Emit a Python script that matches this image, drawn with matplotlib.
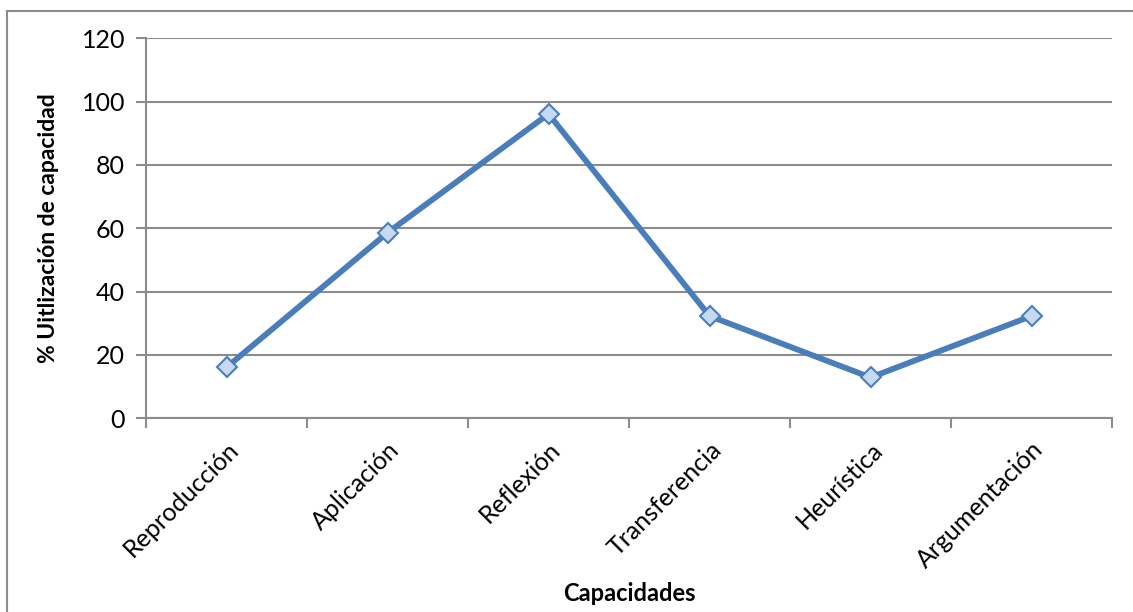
import matplotlib.pyplot as plt
from matplotlib.lines import Line2D

# capacity usage by category
capacidades = ["Reproducción", "Aplicación", "Reflexión", "Transferencia", "Heurística", "Argumentación"]
utilizacion = [16.1, 58.6, 96.1, 32.3, 12.9, 32.3]
y_ticks = [0, 20, 40, 60, 80, 100, 120]

plt.rcParams['font.family'] = ['Lato', 'DejaVu Sans']
grid_color = "#8c8c8c"

fig = plt.figure(figsize=(11.33, 6.12), dpi=100)
ax = fig.add_axes([0.1289, 0.3165, 0.8526, 0.6209])

x = range(len(capacidades))
ax.plot(x, utilizacion, color="#4a7ebb", linewidth=4.2, marker="D", markersize=10,
        markerfacecolor="#c6d9f1", markeredgecolor="#4a7ebb", markeredgewidth=1.5,
        solid_joinstyle="round", zorder=3)

ax.set_xlim(-0.5, len(capacidades) - 0.5)
ax.set_ylim(0, 120)
ax.set_yticks(y_ticks)
ax.yaxis.grid(True, color=grid_color, linewidth=1.5)
ax.set_axisbelow(True)

# category labels centred, tick marks on the boundaries
ax.set_xticks(list(x))
ax.set_xticklabels(capacidades, rotation=45, ha="right", rotation_mode="anchor", fontsize=18)
ax.set_xticks([i - 0.5 for i in range(len(capacidades) + 1)], minor=True)
ax.tick_params(axis="x", which="major", length=0, pad=14)
ax.tick_params(axis="x", which="minor", length=7, width=1.5, color=grid_color, direction="out")
ax.tick_params(axis="y", length=7, width=1.5, color=grid_color, labelsize=18, pad=8)

for side in ["top", "right"]:
    ax.spines[side].set_visible(False)
for side in ["left", "bottom"]:
    ax.spines[side].set_color(grid_color)
    ax.spines[side].set_linewidth(1.5)

ax.set_ylabel("% Uitlización de capacidad", fontsize=16.5, fontweight="bold")
ax.yaxis.set_label_coords(-0.09, 0.5)
ax.set_xlabel("Capacidades", fontsize=17, fontweight="bold")
ax.xaxis.set_label_coords(0.5, -0.43)

# chart area border (left and top edges)
fig.add_artist(Line2D([7 / 1133, 7 / 1133], [0, 1 - 11 / 612], color=grid_color, linewidth=1.5,
                      transform=fig.transFigure))
fig.add_artist(Line2D([7 / 1133, 1], [1 - 11 / 612, 1 - 11 / 612], color=grid_color, linewidth=1.5,
                      transform=fig.transFigure))

plt.savefig("out.png", dpi=100)
